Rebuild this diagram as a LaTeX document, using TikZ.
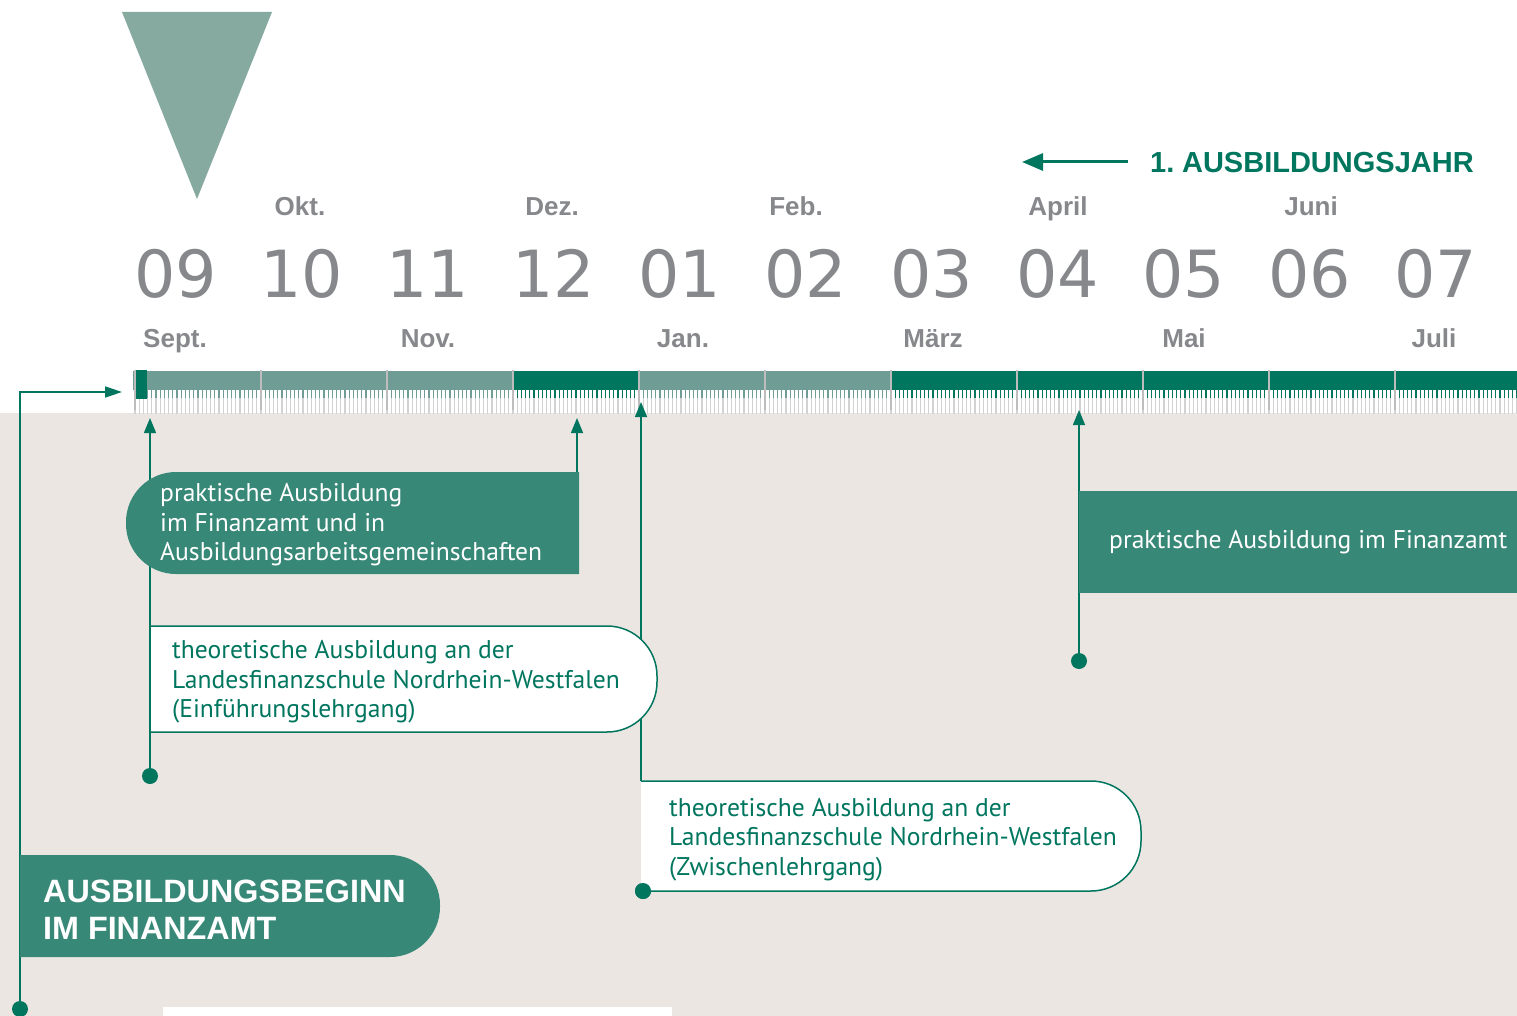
\documentclass[tikz,border=0pt]{standalone}
\usepackage{fontspec}
\setmainfont{PT Sans}
\newfontfamily\labelfont{Liberation Sans}
\newfontfamily\numfont{DejaVu Sans}
\usetikzlibrary{arrows.meta}
\definecolor{dkgreen}{HTML}{00765F}
\definecolor{boxteal}{HTML}{388878}
\definecolor{lightteal}{HTML}{6F9D95}
\definecolor{trigreen}{HTML}{86A9A0}
\definecolor{beige}{HTML}{EBE6E2}
\definecolor{txtgray}{HTML}{87888C}
\definecolor{tickgray}{HTML}{D2D2D2}
\definecolor{divgray}{HTML}{BDBDBD}
\tikzset{
  conn/.style={draw=dkgreen, line width=1.5pt},
  uptip/.style={-{Triangle[length=15pt,width=12pt]}},
  dotmark/.style={circle, fill=dkgreen, minimum size=16pt, inner sep=0pt},
  monthnum/.style={font=\numfont\fontsize{65}{65}\selectfont, text=txtgray, anchor=base, inner sep=0pt},
  monthlbl/.style={font=\labelfont\bfseries\fontsize{26}{26}\selectfont, text=txtgray, anchor=base, inner sep=0pt},
  bodytxt/.style={font=\fontsize{25.6}{29.5}\selectfont, align=left, anchor=west, inner sep=0pt},
  headtxt/.style={font=\labelfont\bfseries, align=left, anchor=west, inner sep=0pt},
}
\begin{document}
\begin{tikzpicture}[x=1pt,y=-1pt]
\useasboundingbox (0,0) rectangle (1517,1016);
% backgrounds
\fill[white] (0,0) rectangle (1517,1016);
\fill[beige] (0,413) rectangle (1517,1016);
\fill[white] (163,1007) rectangle (672,1016);
% triangle
\fill[trigreen] (122,12) -- (272,12) -- (197,199) -- cycle;
% month labels
\foreach \lbl/\x in {Okt./300, Dez./552, Feb./796, April/1058, Juni/1311}
  \node[monthlbl] (up\x) at (\x,216) {\lbl};
\foreach \lbl/\x in {Sept./175, Nov./428, Jan./683, März/933, Mai/1184, Juli/1434}
  \node[monthlbl] (lo\x) at (\x,347) {\lbl};
\foreach \num/\k in {09/0,10/1,11/2,12/3,01/4,02/5,03/6,04/7,05/8,06/9,07/10}
  \node[monthnum] (n\k) at ({175.5+126*\k},298) {\num};
% timeline ticks
\foreach \i in {0,...,330}
  \draw[tickgray, line width=1.1pt] ({135+\i*4.2},389) -- ({135+\i*4.2},414);
\foreach \i in {0,...,89}
  \draw[lightteal, line width=1.3pt] ({135+\i*4.2},388) -- ({135+\i*4.2},398);
\foreach \i in {90,...,119}
  \draw[dkgreen, line width=1.3pt] ({135+\i*4.2},388) -- ({135+\i*4.2},398);
\foreach \i in {120,...,179}
  \draw[lightteal, line width=1.3pt] ({135+\i*4.2},388) -- ({135+\i*4.2},398);
\foreach \i in {180,...,330}
  \draw[dkgreen, line width=1.3pt] ({135+\i*4.2},388) -- ({135+\i*4.2},398);
% bar segments
\fill[lightteal] (133,371) rectangle (513,390);
\fill[dkgreen] (513,371) rectangle (639,390);
\fill[lightteal] (639,371) rectangle (891,390);
\fill[dkgreen] (891,371) rectangle (1517,390);
\foreach \k in {0,...,11}
  \draw[divgray, line width=2.2pt] ({135+126*\k},370) -- ({135+126*\k},410);
\fill[dkgreen] (136,370) rectangle (147,399);
% year arrow
\coordinate (ja) at (1128,162);
\coordinate (jb) at (1022,162);
\draw[dkgreen, line width=3pt, -{Triangle[length=21pt,width=17pt]}] (ja) -- (jb);
\node[headtxt, font=\labelfont\bfseries\fontsize{29}{29}\selectfont, text=dkgreen] (jahr) at (1150,162.5) {1.\kern-3pt{} AUSBILDUNGSJAHR};
% coordinates
\coordinate (tin) at (122,392);
\coordinate (t1) at (150,418);
\coordinate (t2) at (577,418);
\coordinate (p2) at (577,472);
\coordinate (t3) at (641,402);
\coordinate (p3) at (641,781);
\coordinate (t4) at (1079,410);
% dots
\node[dotmark] (d0) at (20,1009) {};
\node[dotmark] (d1) at (150,776) {};
\node[dotmark] (d3) at (643,891) {};
\node[dotmark] (d4) at (1079,661) {};
% connectors
\draw[conn, -{Triangle[length=17pt,width=11pt]}] (d0) |- (tin);
\draw[conn, uptip] (d1) -- (t1);
\draw[conn, uptip] (p2) -- (t2);
\draw[conn, uptip] (p3) -- (t3);
\draw[conn, uptip] (d4) -- (t4);
% praktische Ausbildung box (left)
\fill[boxteal] (579,472) -- (176,472) .. controls (148.4,472) and (126,494.4) .. (126,522) -- (126,524) .. controls (126,551.6) and (148.4,574) .. (176,574) -- (579,574) -- cycle;
\node[bodytxt, text=white] (pa1) at (160,525) {praktische Ausbildung\\im Finanzamt und in\\Ausbildungsarbeitsgemeinschaften};
% Einfuehrungslehrgang box
\filldraw[fill=white, draw=dkgreen, line width=1.5pt] (150,626) -- (607,626) .. controls (634.6,626) and (657,648.4) .. (657,676) -- (657,682) .. controls (657,709.6) and (634.6,732) .. (607,732) -- (150,732) -- cycle;
\node[bodytxt, text=dkgreen] (ein) at (172,682) {theoretische Ausbildung an der\\Landesfinanzschule Nordrhein-Westfalen\\(Einführungslehrgang)};
% Zwischenlehrgang box
\fill[white] (641,781) -- (1091,781) .. controls (1118.6,781) and (1141,803.4) .. (1141,831) -- (1141,841) .. controls (1141,868.6) and (1118.6,891) .. (1091,891) -- (641,891) -- cycle;
\draw[conn] (p3) -- (1091,781) .. controls (1118.6,781) and (1141,803.4) .. (1141,831) -- (1141,841) .. controls (1141,868.6) and (1118.6,891) .. (1091,891) -- (d3.center);
\node[dotmark] at (d3) {};
\node[bodytxt, text=dkgreen] (zw) at (669,839.5) {theoretische Ausbildung an der\\Landesfinanzschule Nordrhein-Westfalen\\(Zwischenlehrgang)};
% praktische Ausbildung im Finanzamt
\fill[boxteal] (1079,491) rectangle (1517,593);
\node[bodytxt, text=white] (pa2) at (1109,542) {praktische Ausbildung im Finanzamt};
% Ausbildungsbeginn
\fill[boxteal] (20,855) -- (390,855) .. controls (417.6,855) and (440,877.4) .. (440,905) -- (440,907) .. controls (440,934.6) and (417.6,957) .. (390,957) -- (20,957) -- cycle;
\node[headtxt, font=\labelfont\bfseries\fontsize{32.3}{37}\selectfont, text=white] (beginn) at (43,910) {AUSBILDUNGSBEGINN\\IM FINANZAMT};
\end{tikzpicture}
\end{document}
